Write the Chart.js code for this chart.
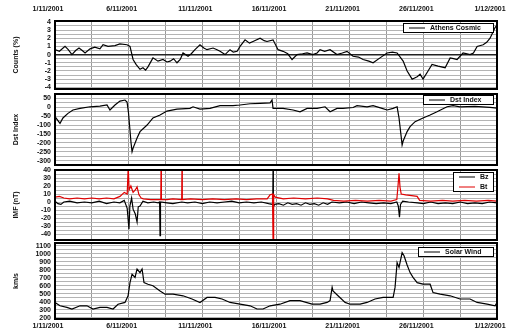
<!DOCTYPE html>
<html>
  <head>
    <title>November 2001</title>
    <script src="https://cdn.jsdelivr.net/npm/chart.js"></script>
    <style>
      body { margin: 0; background: #fff; }
      canvas { position: absolute; left: 0; }
    </style>
  </head>

  <body>
    <canvas id="crChart" width="509" height="91" style="top: 0px"></canvas>
    <canvas id="dstChart" width="509" height="76" style="top: 91px"></canvas>
    <canvas id="imfChart" width="509" height="75" style="top: 167px"></canvas>
    <canvas id="swChart" width="509" height="94" style="top: 242px"></canvas>

    <script>
      // days counted from 1/11/2001
      var dateLabels = ["1/11/2001", "6/11/2001", "11/11/2001", "16/11/2001", "21/11/2001", "26/11/2001", "1/12/2001"];
      var dayGrid = [0, 2.5, 5, 7.5, 10, 12.5, 15, 17.5, 20, 22.5, 25, 27.5, 30];

      // cosmic ray variation (%)
      var crTicks = [-4, -3, -2, -1, 0, 1, 2, 3, 4];
      var crDays = [
        0, 0.3, 0.68, 0.9, 1.15, 1.4, 1.63, 1.85, 2.04, 2.38,
        2.7, 3.05, 3.26, 3.6, 4.07, 4.4, 4.89, 5.09, 5.3, 5.5,
        5.77, 5.97, 6.15, 6.31, 6.65, 6.99, 7.33, 7.6, 7.81, 8.05,
        8.28, 8.5, 8.69, 9.03, 9.25, 9.5, 9.84, 10.1, 10.32, 10.73,
        11.0, 11.2, 11.54, 11.88, 12.1, 12.36, 12.56, 12.9, 13.2, 13.44,
        13.92, 14.2, 14.39, 14.8, 15.14, 15.48, 15.8, 16.09, 16.43, 16.8,
        17.11, 17.5, 17.79, 17.99, 18.3, 18.67, 19.14, 19.5, 19.82, 20.23,
        20.6, 20.91, 21.3, 21.59, 22.06, 22.54, 22.9, 23.22, 23.63, 23.9,
        24.24, 24.58, 24.78, 24.98, 25.32, 25.59, 26.0, 26.48, 26.82, 27.05,
        27.29, 27.7, 28.17, 28.4, 28.65, 29.06, 29.3, 29.53, 29.87, 30
      ];
      var crVals = [
        0.6, 0.4, 1.0, 0.6, 0.0, 0.5, 0.8, 0.5, 0.2, 0.7,
        0.9, 0.7, 1.2, 1.0, 1.1, 1.3, 1.2, 1.0, -0.6, -1.2,
        -1.8, -1.6, -1.9, -1.5, -0.4, -0.8, -0.6, -0.9, -0.8, -0.5,
        -1.0, -0.6, 0.2, -0.2, 0.1, 0.6, 1.2, 0.8, 0.6, 0.8,
        0.6, 0.4, 0.0, 0.6, 0.3, 0.4, 1.0, 1.8, 1.4, 1.6,
        2.0, 1.7, 1.6, 1.8, 0.6, 0.4, 0.1, -0.6, 0.0, 0.1,
        0.2, 0.0, 0.2, 0.6, 0.4, 0.6, 0.0, 0.2, 0.4, -0.2,
        -0.3, -0.6, -0.8, -1.0, -0.4, 0.2, 0.3, 0.2, -0.8, -2.0,
        -3.0, -2.7, -2.4, -3.0, -2.0, -1.2, -1.4, -1.6, -0.4, -0.5,
        -0.6, 0.2, 0.0, 0.2, 1.0, 1.2, 1.5, 2.0, 3.3, 3.6
      ];

      // Dst index (nT)
      var dstTicks = [-300, -250, -200, -150, -100, -50, 0, 50];
      var dstDays = [
        0, 0.34, 0.54, 0.88, 1.22, 1.7, 2.38, 3.05, 3.53, 3.73,
        4.07, 4.41, 4.75, 4.89, 4.99, 5.16, 5.23, 5.3, 5.57, 5.77,
        6.25, 6.65, 7.13, 7.6, 8.28, 9.16, 9.37, 9.84, 10.52, 11.2,
        12.08, 12.56, 13.24, 13.92, 14.6, 14.73, 14.8, 15.48, 16.16, 16.63,
        17.11, 17.79, 18.33, 18.67, 19.14, 19.55, 20.23, 20.5, 21.18, 21.59,
        22.2, 22.54, 22.95, 23.22, 23.35, 23.56, 23.63, 23.9, 24.1, 24.44,
        24.98, 25.46, 25.93, 26.61, 27.02, 27.49, 28.5, 29.53, 30
      ];
      var dstVals = [
        -53, -90, -60, -34, -15, -6, 3, 7, 13, -15,
        13, 35, 41, 30, -32, -200, -250, -230, -173, -137,
        -100, -60, -43, -21, -10, -6, 3, -10, -6, 9,
        9, 13, 20, 22, 25, 41, -6, -6, -15, -25,
        -6, -6, 3, -25, -6, -6, -1, 9, 3, 9,
        -6, -15, -6, 3, -60, -212, -190, -137, -109, -81,
        -60, -43, -25, 3, 9, 3, 5, 0, -5
      ];

      // interplanetary magnetic field (nT)
      var bTicks = [-40, -30, -20, -10, 0, 10, 20, 30, 40];
      var bzDays = [
        0, 0.2, 0.4, 0.6, 1.0, 1.5, 2.0, 2.5, 3.0, 3.5,
        4.0, 4.4, 4.7, 4.9, 5.02, 5.08, 5.2, 5.3, 5.45, 5.57,
        5.65, 5.77, 5.97, 6.3, 6.7, 7.0, 7.1, 7.13, 7.16, 7.6,
        8.0, 8.6, 9.0, 9.5, 10.0, 10.5, 11.0, 11.5, 12.0, 12.5,
        13.0, 13.5, 14.0, 14.5, 14.78, 14.8, 14.82, 14.9, 15.2, 15.5,
        15.8, 16.1, 16.4, 16.7, 17.0, 17.3, 17.6, 17.9, 18.2, 18.5,
        18.8, 19.3, 19.8, 20.3, 20.8, 21.3, 21.8, 22.3, 22.8, 23.2,
        23.3, 23.38, 23.45, 23.6, 24.0, 24.6, 25.0, 25.5, 26.0, 26.5,
        27.0, 27.5, 28.0, 28.5, 29.0, 29.5, 30
      ];
      var bzVals = [
        1, -2, -3, 0, 1, -1, 0, -1, 1, -2,
        0, -1, 2, -8, -34, -5, 5, -9, -15, -25,
        -6, -5, 1, -1, 0, -1, 0, -42, 0, -1,
        -2, 0, -1, 0, -2, 0, -1, 0, 1, -1,
        0, -1, 0, -2, -3, 45, -6, -3, -2, -4,
        -1, -3, -2, -4, -1, -3, -2, -4, -1, -3,
        0, -1, 0, -2, 0, -1, -2, -1, -2, 0,
        -5, -19, -3, 1, 0, -1, -2, 0, -2, -1,
        -2, 0, -2, -1, -2, 0, -1
      ];
      var btDays = [
        0, 0.3, 0.6, 1.0, 1.5, 2.0, 2.5, 3.0, 3.5, 4.0,
        4.41, 4.7, 4.9, 4.97, 5.03, 5.15, 5.3, 5.45, 5.57, 5.7,
        5.85, 6.0, 6.5, 7.0, 7.18, 7.2, 7.22, 7.6, 8.0, 8.6,
        8.62, 8.64, 9.2, 10.0, 10.7, 11.5, 12.3, 13.0, 13.7, 14.4,
        14.6, 14.76, 14.8, 14.84, 14.95, 15.5, 16.2, 17.0, 17.8, 18.5,
        18.9, 19.6, 20.4, 21.2, 22.0, 22.8, 23.2, 23.29, 23.35, 23.42,
        23.5, 23.8, 24.2, 24.58, 24.75, 25.5, 26.3, 27.0, 27.8, 28.6,
        29.4, 30
      ];
      var btVals = [
        6, 7, 5, 4, 5, 4, 5, 4, 5, 4,
        7, 12, 10, 45, 15, 20, 12, 15, 19, 9,
        5, 4, 3, 3, 3, 48, 3, 3, 4, 3,
        48, 3, 4, 3, 4, 3, 4, 3, 4, 4,
        9, 10, -50, 9, 6, 4, 5, 4, 5, 4,
        2, 1, 2, 1, 2, 1, 3, 22, 36, 18,
        10, 9, 8, 7, 2, 1, 2, 1, 2, 1,
        2, 1
      ];

      // solar wind speed (km/s)
      var swTicks = [200, 300, 400, 500, 600, 700, 800, 900, 1000, 1100];
      var swDays = [
        0, 0.34, 0.81, 1.15, 1.7, 2.17, 2.58, 3.05, 3.53, 3.94,
        4.28, 4.75, 4.96, 5.09, 5.23, 5.43, 5.57, 5.77, 5.91, 6.04,
        6.31, 6.65, 7.13, 7.47, 8.01, 8.69, 9.3, 9.84, 10.32, 10.86,
        11.34, 11.88, 12.56, 13.24, 13.71, 14.12, 14.6, 15.27, 15.95, 16.63,
        17.45, 17.99, 18.47, 18.67, 18.81, 18.87, 19.21, 19.69, 20.03, 20.71,
        21.18, 21.72, 22.27, 22.95, 23.08, 23.22, 23.35, 23.56, 23.69, 23.9,
        24.1, 24.3, 24.58, 24.98, 25.46, 25.66, 26.14, 26.82, 27.49, 28.17,
        28.65, 29.33, 29.87, 30
      ];
      var swVals = [
        392, 350, 330, 308, 350, 350, 310, 330, 330, 310,
        370, 392, 475, 640, 745, 705, 810, 765, 810, 640,
        620, 600, 535, 495, 495, 475, 435, 392, 455, 455,
        435, 392, 370, 350, 310, 310, 350, 370, 415, 415,
        370, 370, 392, 415, 580, 535, 475, 392, 370, 370,
        392, 435, 455, 455, 580, 890, 830, 1015, 975, 860,
        765, 705, 640, 620, 620, 515, 495, 475, 435, 435,
        392, 370, 350, 392
      ];

      function pts(days, vals) {
        return days.map((d, i) => ({ x: d, y: vals[i] }));
      }

      // major ticks plus the half steps between them
      function withHalfSteps(majors) {
        var out = [];
        majors.forEach((v, i) => {
          out.push(v);
          if (i < majors.length - 1) out.push((v + majors[i + 1]) / 2);
        });
        return out;
      }

      var fontFamily = '"Liberation Sans", Arial, sans-serif';
      Chart.defaults.font.family = fontFamily;
      Chart.defaults.font.size = 7;
      Chart.defaults.font.weight = "bold";
      Chart.defaults.color = "#111";

      // frame, rotated axis title and a small boxed legend inside the plot
      var panelDecor = {
        id: "panelDecor",
        afterDraw(chart, args, o) {
          var ctx = chart.ctx;
          var a = chart.chartArea;
          ctx.save();
          ctx.strokeStyle = "#000";
          ctx.lineWidth = 2;
          ctx.strokeRect(a.left, a.top, a.right - a.left, a.bottom - a.top);

          ctx.font = "bold 7px " + fontFamily;
          ctx.fillStyle = "#111";
          ctx.save();
          ctx.translate(16, (a.top + a.bottom) / 2);
          ctx.rotate(-Math.PI / 2);
          ctx.textAlign = "center";
          ctx.textBaseline = "middle";
          ctx.fillText(o.title, 0, 0);
          ctx.restore();

          var sets = chart.data.datasets;
          var h = 10 * sets.length - 1;
          var left = a.right - 4 - o.legendWidth;
          var top = a.top + o.legendTop;
          ctx.fillStyle = "#fff";
          ctx.fillRect(left, top, o.legendWidth, h);
          ctx.lineWidth = 1;
          ctx.strokeStyle = "#000";
          ctx.strokeRect(left + 0.5, top + 0.5, o.legendWidth, h);
          ctx.textAlign = "left";
          ctx.textBaseline = "middle";
          sets.forEach((s, i) => {
            var y = top + 5 + 10 * i;
            ctx.strokeStyle = s.borderColor;
            ctx.beginPath();
            ctx.moveTo(left + 6, y);
            ctx.lineTo(left + 22, y);
            ctx.stroke();
            ctx.fillStyle = "#111";
            ctx.fillText(s.label, left + 27, y);
          });
          ctx.restore();
        },
      };
      Chart.register(panelDecor);

      function makePanel(id, cfg) {
        return new Chart(document.getElementById(id), {
          type: "line",
          data: {
            datasets: cfg.series.map((s) => ({
              label: s.label,
              data: s.data,
              borderColor: s.color,
              borderWidth: 1.2,
              pointRadius: 0,
              order: s.order || 0,
            })),
          },
          options: {
            responsive: false,
            animation: false,
            layout: {
              autoPadding: false,
              padding: { left: 0, right: 12, top: cfg.padTop, bottom: cfg.padBottom },
            },
            plugins: {
              legend: { display: false },
              tooltip: { enabled: false },
              panelDecor: { title: cfg.title, legendWidth: cfg.legendWidth, legendTop: cfg.legendTop },
            },
            scales: {
              x: {
                type: "linear",
                position: cfg.xPos,
                min: 0,
                max: 30,
                afterBuildTicks: (ax) => {
                  ax.ticks = dayGrid.map((v) => ({ value: v }));
                },
                afterFit: (ax) => {
                  ax.height = cfg.xHeight;
                  ax.paddingLeft = 0;
                  ax.paddingRight = 0;
                },
                ticks: {
                  display: cfg.xLabels,
                  autoSkip: false,
                  maxRotation: 0,
                  padding: cfg.xPad,
                  labelOffset: -7,
                  callback: (v) => (v % 5 === 0 ? dateLabels[v / 5] : ""),
                },
                grid: { color: "#999", drawTicks: false },
                border: { display: false },
              },
              y: {
                min: cfg.yMin,
                max: cfg.yMax,
                afterBuildTicks: (ax) => {
                  ax.ticks = withHalfSteps(cfg.yTicks).map((v) => ({ value: v }));
                },
                afterFit: (ax) => {
                  ax.width = 55;
                  ax.paddingTop = 0;
                  ax.paddingBottom = 0;
                },
                ticks: {
                  autoSkip: false,
                  padding: 4,
                  callback: (v) => (cfg.yTicks.includes(v) ? String(v) : ""),
                },
                grid: {
                  drawTicks: false,
                  color: (c) => (cfg.zeroLine && c.tick && c.tick.value === 0 ? "#222" : "#b4b4b4"),
                  lineWidth: (c) => (cfg.zeroLine && c.tick && c.tick.value === 0 ? 1.5 : 1),
                },
                border: { display: false },
              },
            },
          },
        });
      }

      makePanel("crChart", {
        series: [{ label: "Athens Cosmic", data: pts(crDays, crVals), color: "#000" }],
        yMin: -4.2, yMax: 4.1, yTicks: crTicks, zeroLine: true,
        title: "Counts (%)", legendWidth: 90, legendTop: 2,
        xPos: "top", xLabels: true, xHeight: 21, xPad: 8, padTop: 0, padBottom: 2,
      });

      makePanel("dstChart", {
        series: [{ label: "Dst Index", data: pts(dstDays, dstVals), color: "#000" }],
        yMin: -325, yMax: 75, yTicks: dstTicks,
        title: "Dst Index", legendWidth: 70, legendTop: 1,
        xPos: "bottom", xLabels: false, xHeight: 0, xPad: 0, padTop: 3, padBottom: 2,
      });

      makePanel("imfChart", {
        series: [
          { label: "Bz", data: pts(bzDays, bzVals), color: "#000", order: 1 },
          { label: "Bt", data: pts(btDays, btVals), color: "#e00000", order: 0 },
        ],
        yMin: -47.5, yMax: 40, yTicks: bTicks,
        title: "IMF (nT)", legendWidth: 40, legendTop: 2,
        xPos: "bottom", xLabels: false, xHeight: 0, xPad: 0, padTop: 3, padBottom: 2,
      });

      makePanel("swChart", {
        series: [{ label: "Solar Wind", data: pts(swDays, swVals), color: "#000" }],
        yMin: 185, yMax: 1135, yTicks: swTicks,
        title: "km/s", legendWidth: 75, legendTop: 4,
        xPos: "bottom", xLabels: true, xHeight: 17, xPad: 3, padTop: 1, padBottom: 0,
      });
    </script>
  </body>
</html>
